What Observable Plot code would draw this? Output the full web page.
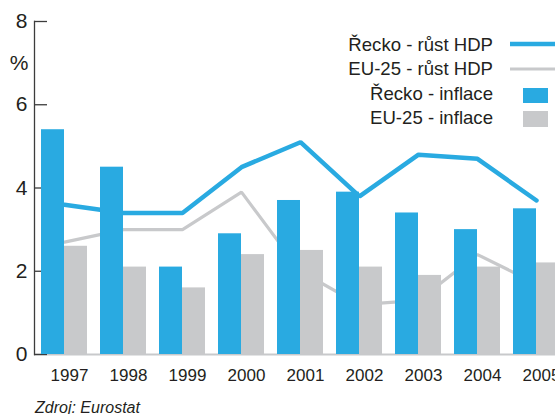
<!DOCTYPE html>
<html><head><meta charset="utf-8">
<script src="https://cdn.jsdelivr.net/npm/d3@7"></script>
<script src="https://cdn.jsdelivr.net/npm/@observablehq/plot@0.6"></script>
<style>
html,body{margin:0;padding:0;background:#fff;}
#wrap{position:relative;width:555px;height:414px;overflow:hidden;font-family:"Liberation Sans",Arial,sans-serif;color:#231f20;}
#chart{position:absolute;left:0;top:0;width:555px;overflow:hidden;}
#chart svg{overflow:hidden;}
.lg{position:absolute;right:62px;font-size:18.6px;line-height:18px;white-space:nowrap;text-align:right;}
#legsym{position:absolute;left:0;top:0;}
#caption{position:absolute;left:35px;top:399.5px;font-size:16px;line-height:16px;font-style:italic;white-space:nowrap;}
</style>
</head><body>
<div id="wrap"><div id="chart"></div><div id="legend"></div><div id="caption"></div></div>
<script>
const years = [1997, 1998, 1999, 2000, 2001, 2002, 2003, 2004, 2005];
const grInflation = [5.4, 4.5, 2.1, 2.9, 3.7, 3.9, 3.4, 3.0, 3.5];
const euInflation = [2.6, 2.1, 1.6, 2.4, 2.5, 2.1, 1.9, 2.1, 2.2];
const grGdp = [3.6, 3.4, 3.4, 4.5, 5.1, 3.8, 4.8, 4.7, 3.7];
const euGdp = [2.7, 3.0, 3.0, 3.9, 2.0, 1.2, 1.3, 2.4, 1.7];
const yTicks = [0, 2, 4, 6, 8];
const seriesNames = ["Řecko - růst HDP", "EU-25 - růst HDP", "Řecko - inflace", "EU-25 - inflace"];
const unitLabel = "%";
const sourceText = "Zdroj: Eurostat";

const blue = "#29aae1", gray = "#c8c9cb", ink = "#231f20";
const data = years.map((year, i) => ({year, grInf: grInflation[i], euInf: euInflation[i], grGdp: grGdp[i], euGdp: euGdp[i]}));

const chart = Plot.plot({
  width: 555, height: 392,
  marginTop: 21, marginBottom: 38, marginLeft: 34, marginRight: 0,
  style: {fontFamily: "Liberation Sans, Arial, sans-serif", color: ink, background: "white"},
  x: {type: "band", domain: years, range: [34, 566], paddingInner: 0.2236, paddingOuter: 0.1013, align: 0.5},
  y: {domain: [0, 8]},
  marks: [
    Plot.ruleY([0], {stroke: gray, strokeWidth: 2}),
    Plot.frame({anchor: "left", stroke: "#3c3c3c", strokeWidth: 1.3}),
    Plot.axisY({ticks: yTicks, tickSize: -13, tickFormat: () => "", label: null, stroke: "#3c3c3c", strokeWidth: 1.3}),
    Plot.axisY({ticks: yTicks, tickSize: 0, tickPadding: 7, fontSize: 21, label: null}),
    Plot.text([unitLabel], {y: () => (yTicks[3] + yTicks[4]) / 2, frameAnchor: "left", textAnchor: "end", dx: -6, fontSize: 21, fill: ink}),
    Plot.lineY(data, {x: "year", y: "euGdp", stroke: gray, strokeWidth: 3.2, strokeLinejoin: "miter"}),
    Plot.lineY(data, {x: "year", y: "grGdp", stroke: blue, strokeWidth: 4.5, strokeLinejoin: "miter"}),
    Plot.barY(data, {x: "year", y: "grInf", fill: blue, insetRight: 23}),
    Plot.barY(data, {x: "year", y: "euInf", fill: gray, insetLeft: 23}),
    Plot.axisX({tickSize: 0, tickPadding: 14, fontSize: 17, dx: 5, label: null, tickFormat: d => String(d)})
  ]
});
document.getElementById("chart").append(chart);

// legend
const legend = document.getElementById("legend");
const rowTops = [35.8, 59.8, 84.8, 108.8];
seriesNames.forEach((name, i) => {
  const d = document.createElement("div");
  d.className = "lg";
  d.style.top = rowTops[i] + "px";
  d.textContent = name;
  legend.append(d);
});
const ns = "http://www.w3.org/2000/svg";
const sym = document.createElementNS(ns, "svg");
sym.setAttribute("id", "legsym");
sym.setAttribute("width", 555);
sym.setAttribute("height", 140);
const mk = (tag, attrs) => { const e = document.createElementNS(ns, tag); for (const k in attrs) e.setAttribute(k, attrs[k]); sym.append(e); };
mk("line", {x1: 510, x2: 560, y1: 44, y2: 44, stroke: blue, "stroke-width": 4.5});
mk("line", {x1: 510, x2: 560, y1: 69, y2: 69, stroke: gray, "stroke-width": 3.2});
mk("rect", {x: 523, y: 88, width: 25, height: 15, fill: blue});
mk("rect", {x: 523, y: 111, width: 25, height: 16, fill: gray});
legend.append(sym);

document.getElementById("caption").textContent = sourceText;
</script>
</body></html>
